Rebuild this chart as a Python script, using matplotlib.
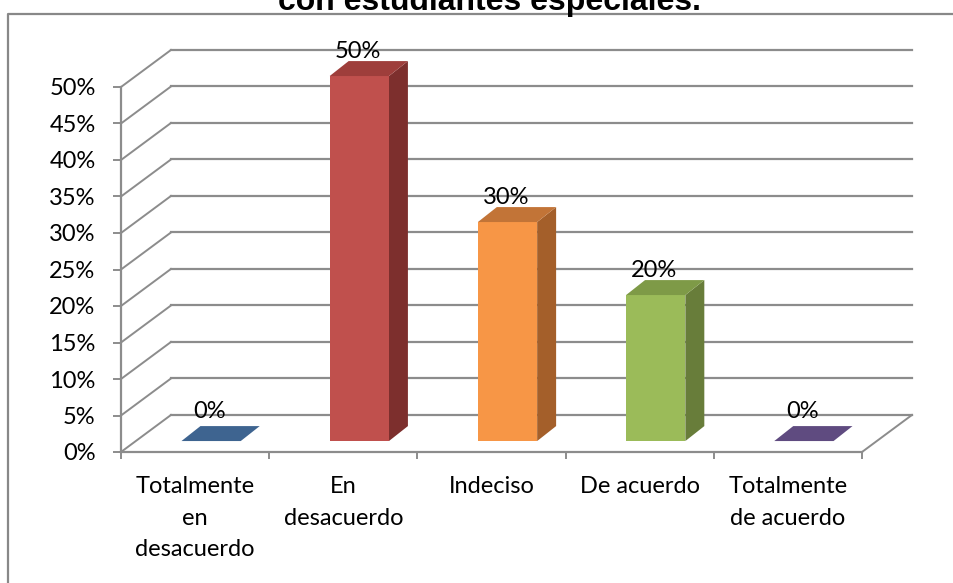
import matplotlib
matplotlib.use("Agg")
import matplotlib.pyplot as plt
from matplotlib.patches import Polygon
from matplotlib.lines import Line2D

categories = ["Totalmente\nen\ndesacuerdo", "En\ndesacuerdo", "Indeciso", "De acuerdo", "Totalmente\nde acuerdo"]
values = [0, 50, 30, 20, 0]
value_labels = ["0%", "50%", "30%", "20%", "0%"]
front_colors = ["#4F81BD", "#C0504D", "#F79646", "#9BBB59", "#8064A2"]
side_colors = ["#2E4B6E", "#7D2F2D", "#A45F2A", "#687D3A", "#54416C"]
top_colors = ["#3E6490", "#9E3E3B", "#C27437", "#7E9A47", "#5F4B80"]
yticks = [0, 5, 10, 15, 20, 25, 30, 35, 40, 45, 50]
title = "con estudiantes especiales."

FONT = "Lato"
FS = 17
W, H = 954, 583
fig = plt.figure(figsize=(W / 100, H / 100), dpi=100)
ax = fig.add_axes([121 / W, (H - 452) / H, (862 - 121) / W, (452 - 87) / H])
ax.set_xlim(-0.5, 4.5)
ax.set_ylim(0, 50)
ax.patch.set_alpha(0)

# depth geometry (data units)
DX, DY = 0.337, 5.07          # wall depth
FX, FY = 0.108, 1.5           # bar front offset
BX, BY = 0.128, 2.05          # bar depth
BW = 0.40                     # bar width
grid_c = "#8C8C8C"

# back wall gridlines and side wall diagonals
for v in yticks:
    ax.add_line(Line2D([-0.5 + DX, 4.5 + DX], [v + DY, v + DY], color=grid_c, lw=1.6, clip_on=False, zorder=1))
    ax.add_line(Line2D([-0.5, -0.5 + DX], [v, v + DY], color=grid_c, lw=1.4, clip_on=False, zorder=1))
# floor right edge
ax.add_line(Line2D([4.5, 4.5 + DX], [0, DY], color=grid_c, lw=1.4, clip_on=False, zorder=1))

# bars
for i, v in enumerate(values):
    x0 = i + FX - BW / 2
    x1 = i + FX + BW / 2
    y0 = FY
    y1 = v + FY
    if v > 0:
        ax.add_patch(Polygon([(x1, y0), (x1 + BX, y0 + BY), (x1 + BX, y1 + BY), (x1, y1)],
                             closed=True, fc=side_colors[i], ec="none", clip_on=False, zorder=3))
        ax.add_patch(Polygon([(x0, y0), (x1, y0), (x1, y1), (x0, y1)],
                             closed=True, fc=front_colors[i], ec="none", clip_on=False, zorder=3))
    ax.add_patch(Polygon([(x0, y1), (x1, y1), (x1 + BX, y1 + BY), (x0 + BX, y1 + BY)],
                         closed=True, fc=top_colors[i], ec="none", clip_on=False, zorder=3))
    ax.text(i + FX - 0.01, v + FY + 3.4 + (0.6 if v == 0 else 0), value_labels[i], ha="center", va="center",
            fontsize=FS, family=FONT, color="black", zorder=4)

# axes styling
for s in ["top", "right"]:
    ax.spines[s].set_visible(False)
for s in ["left", "bottom"]:
    ax.spines[s].set_color(grid_c)
    ax.spines[s].set_linewidth(1.6)
    ax.spines[s].set_zorder(2)

ax.set_yticks(yticks)
ax.set_yticklabels([f"{t}%" for t in yticks], fontsize=FS, family=FONT)
ax.tick_params(axis="y", length=5.8, width=1.4, color=grid_c, pad=12.5)

ax.set_xticks(range(len(categories)))
ax.set_xticklabels(categories, fontsize=FS, family=FONT, linespacing=1.6, va="top")
ax.set_xticks([i - 0.5 for i in range(len(categories) + 1)], minor=True)
ax.tick_params(axis="x", which="major", length=0, pad=17.5)
ax.tick_params(axis="x", which="minor", length=5, width=1.4, color=grid_c)

# chart border
bc = "#888888"
fig.add_artist(Line2D([8 / W, 8 / W, 1.01], [-0.01, 1 - 14 / H, 1 - 14 / H], color=bc, lw=1.6,
                      transform=fig.transFigure))

fig.text(489.5 / W, 1 - 10 / H, title, ha="center", va="baseline", fontsize=23,
         fontweight="bold", family="Liberation Sans")

fig.savefig("out.png", dpi=100)
